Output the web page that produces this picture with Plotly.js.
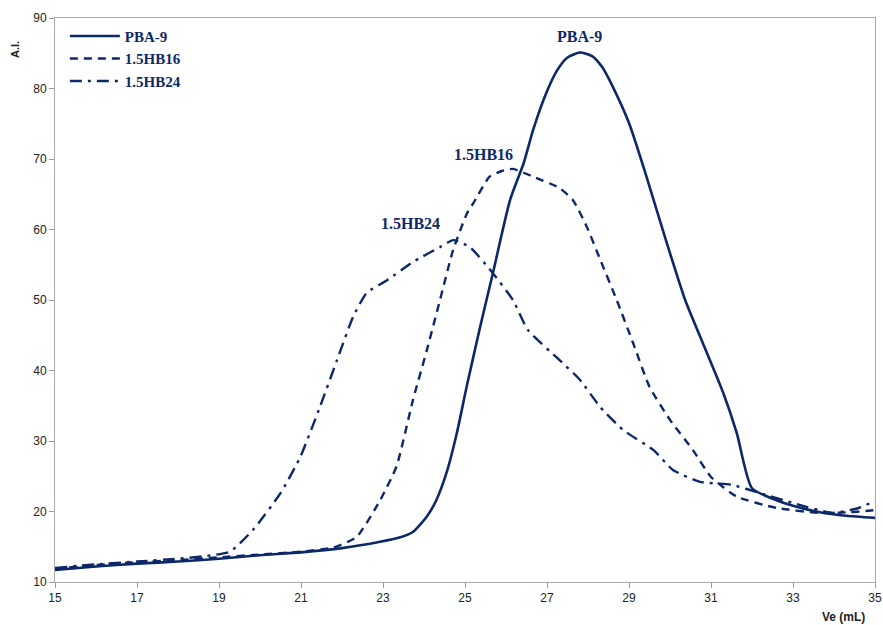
<!DOCTYPE html>
<html><head><meta charset="utf-8">
<script src="https://cdn.plot.ly/plotly-3.0.1.min.js"></script>
<style>body{margin:0;background:#fff}#c{width:883px;height:625px}</style>
</head><body><div id="c"></div>
<script>
var pbaX = [15,16,17,18,19,20,21,22,22.93,23.4,23.73,24.07,24.3,24.55,24.8,25.04,25.37,25.68,26.1,26.43,26.66,27.0,27.25,27.5,27.8,28.1,28.35,28.6,29.0,29.4,29.9,30.37,30.8,31.3,31.63,32.0,32.6,33.0,33.66,34.3,35];
var pbaY = [11.7,12.2,12.6,12.9,13.3,13.8,14.2,14.8,15.7,16.3,17.1,19.3,21.6,25.5,31.1,37.7,46.2,53.8,64.2,69.4,74.1,79.6,82.6,84.4,85.1,84.6,83.0,80.3,75.1,68.0,58.5,50.0,43.9,36.8,31.1,23.3,21.6,20.8,19.9,19.4,19.1];
var hb16X = [15,16,17,18,19,20,21,21.8,22.36,22.93,23.33,23.73,24.07,24.39,24.71,25.05,25.2,25.6,25.9,26.17,26.66,27.3,27.63,27.97,28.3,28.7,29.1,29.5,30.0,30.56,31.0,31.63,32.6,33.66,34.4,35];
var hb16Y = [11.9,12.4,12.8,13.1,13.5,13.9,14.3,14.9,16.4,21.6,26.4,35.8,42.9,50.0,57.1,62.3,63.7,67.5,68.3,68.6,67.5,65.9,64.2,60.4,55.7,50.0,43.9,37.7,33.0,28.7,24.9,22.1,20.5,19.8,19.9,20.2];
var hb24X = [15,16,17,18,18.7,19.27,19.83,20.5,20.98,21.46,21.88,22.27,22.6,23.1,23.73,24.39,24.71,25.12,25.68,26.17,26.54,27.3,27.8,28.3,28.85,29.6,30.07,30.73,31.5,32.2,33.0,33.97,34.6,35];
var hb24Y = [12.0,12.5,12.9,13.3,13.7,14.3,17.4,22.6,27.7,34.8,41.5,47.6,51.0,52.8,55.4,57.5,58.5,57.5,53.8,50.0,45.7,41.5,38.7,34.8,31.6,28.7,25.9,24.2,23.8,22.6,21.2,19.8,20.5,21.5];
var names = ["PBA-9","1.5HB16","1.5HB24"];
var labelX = [27.8, 25.45, 23.68];
var labelY = [87.4, 70.7, 60.9];
var xTicks = [15,17,19,21,23,25,27,29,31,33,35];
var yTicks = [10,20,30,40,50,60,70,80,90];

var col = "#0d2868";
var serif = "Liberation Serif, Times New Roman, serif";
var narrow = "Liberation Sans Narrow, Arial Narrow, Liberation Sans, sans-serif";
var traces = [
  {x: pbaX, y: pbaY, name: names[0], mode: "lines", line: {color: col, width: 2.6, shape: "spline", smoothing: 0.6}},
  {x: hb16X, y: hb16Y, name: names[1], mode: "lines", line: {color: col, width: 2.4, dash: "8px,6px", shape: "spline", smoothing: 0.5}},
  {x: hb24X, y: hb24Y, name: names[2], mode: "lines", line: {color: col, width: 2.4, dash: "12px,6px,3px,6px", shape: "spline", smoothing: 0.5}}
];
var ann = names.map(function(n, i){
  return {x: labelX[i], y: labelY[i], xref: "x", yref: "y", text: "<b>" + n + "</b>", showarrow: false,
          font: {family: serif, size: 16, color: col}};
});
ann.push({x: 1, y: 0, xref: "paper", yref: "paper", xanchor: "right", yanchor: "top", yshift: -26, xshift: -8,
          text: "<b>Ve (mL)</b>", showarrow: false, font: {family: narrow, size: 12, color: "#222"}});
ann.push({x: 0, y: 1, xref: "paper", yref: "paper", xanchor: "center", yanchor: "middle", xshift: -40, yshift: -32,
          textangle: -90, text: "<b>A.I.</b>", showarrow: false, font: {family: narrow, size: 11, color: "#222"}});
var layout = {
  width: 883, height: 625,
  margin: {l: 55, r: 8, t: 18, b: 43},
  paper_bgcolor: "#fff", plot_bgcolor: "#fff",
  showlegend: true,
  legend: {x: 0.012, y: 0.997, xanchor: "left", yanchor: "top", bgcolor: "rgba(0,0,0,0)", itemwidth: 50,
           font: {family: serif, size: 15, color: col, weight: 700}, tracegroupgap: 0},
  xaxis: {range: [15, 35], tickvals: xTicks, ticktext: xTicks.map(String), ticks: "outside", ticklen: 5,
          tickcolor: "#999", showline: true, linecolor: "#aaa", linewidth: 1, mirror: true, showgrid: false,
          zeroline: false, tickfont: {family: narrow, size: 12, color: "#222"}},
  yaxis: {range: [10, 90], tickvals: yTicks, ticktext: yTicks.map(String), ticks: "outside", ticklen: 5,
          tickcolor: "#999", showline: true, linecolor: "#aaa", linewidth: 1, mirror: true, showgrid: false,
          zeroline: false, tickfont: {family: narrow, size: 12, color: "#222"}},
  annotations: ann
};
Plotly.newPlot("c", traces, layout, {displayModeBar: false, staticPlot: true});
</script></body></html>
